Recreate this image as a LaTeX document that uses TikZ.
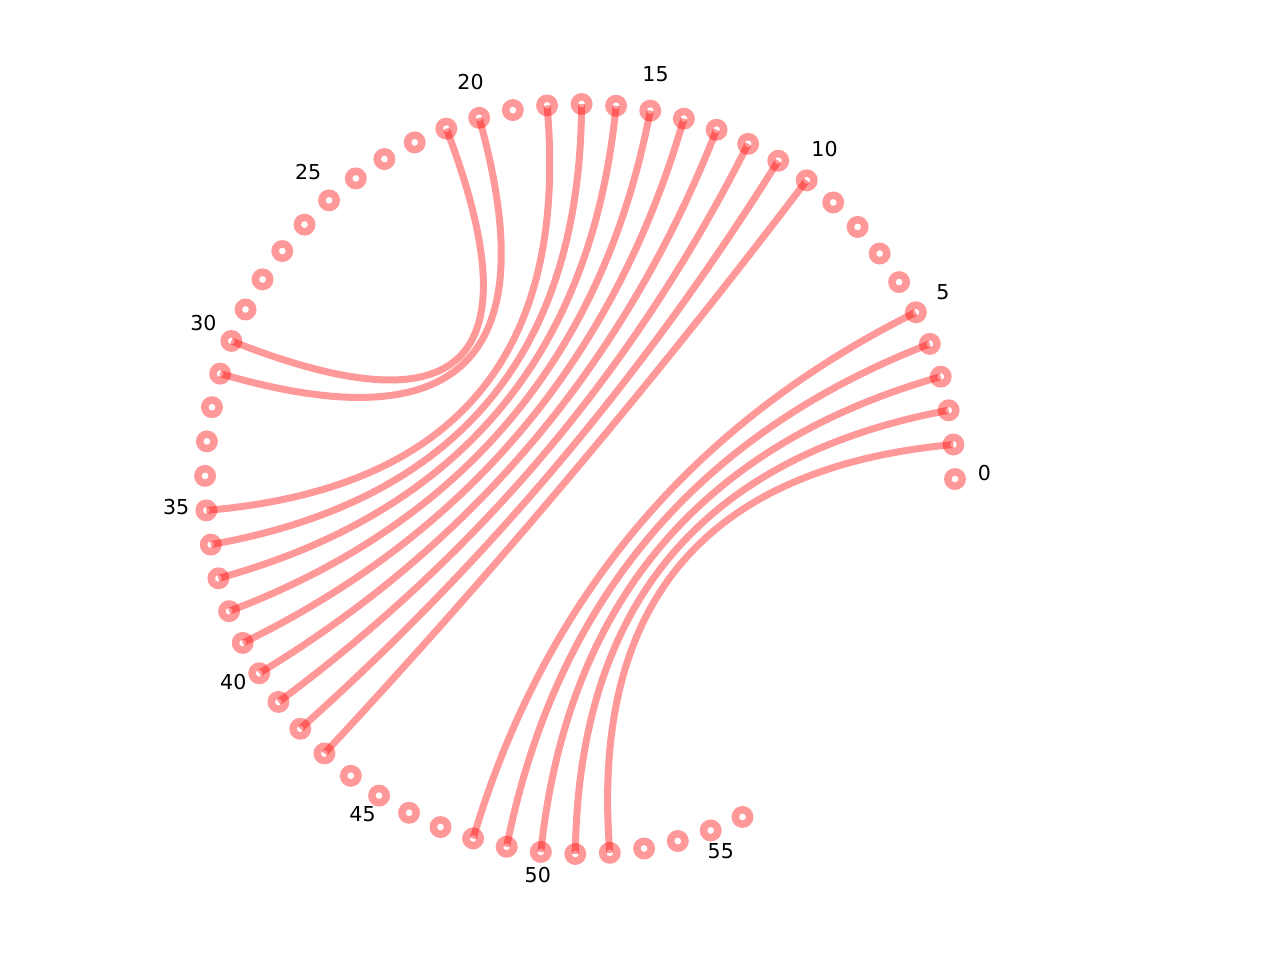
\documentclass[tikz,border=0pt]{standalone}
\usepackage{fontspec}
\setmainfont{DejaVu Sans}
\usetikzlibrary{calc}
\tikzset{
  vtx/.style={circle, fill=red!40, draw=none, inner sep=0pt, minimum size=16.5pt},
  chord/.style={draw=red, draw opacity=0.4, line width=5.25pt},
  lbl/.style={inner sep=0pt, font=\fontsize{15.4}{18}\selectfont, text=black}
}
\begin{document}
\begin{tikzpicture}[x=0.75pt, y=-0.75pt]
\useasboundingbox (0,0) rectangle (1280,960);
\coordinate (O) at (580,479);
\foreach \i in {0,...,56} {
  \pgfmathsetmacro{\ang}{\i*5.28}
  \node[vtx] (n\i) at ({580+375*cos(\ang)}, {479-375*sin(\ang)}) {};
  \fill[white] (n\i.center) circle (2.5pt);
}
\foreach \a/\b in {1/52,2/51,3/50,4/49,5/48,10/43,11/42,12/41,13/40,14/39,15/38,16/37,17/36,18/35,20/31,21/30} {
  \draw[chord] (n\a.center) .. controls ($(n\a.center)!2/3!(O)$) and ($(n\b.center)!2/3!(O)$) .. (n\b.center);
}
\node[lbl] (l0) at (984.5,473.2) {0};
\node[lbl] (l5) at (942.8,292) {5};
\node[lbl] (l10) at (824.5,149.2) {10};
\node[lbl] (l15) at (655.5,74.2) {15};
\node[lbl] (l20) at (470.5,82.5) {20};
\node[lbl] (l25) at (308.2,171.7) {25};
\node[lbl] (l30) at (203.5,323.2) {30};
\node[lbl] (l35) at (176.2,506.7) {35};
\node[lbl] (l40) at (233.3,682.2) {40};
\node[lbl] (l45) at (362.5,813.8) {45};
\node[lbl] (l50) at (537.8,875) {50};
\node[lbl] (l55) at (720.8,850.7) {55};
\end{tikzpicture}
\end{document}
